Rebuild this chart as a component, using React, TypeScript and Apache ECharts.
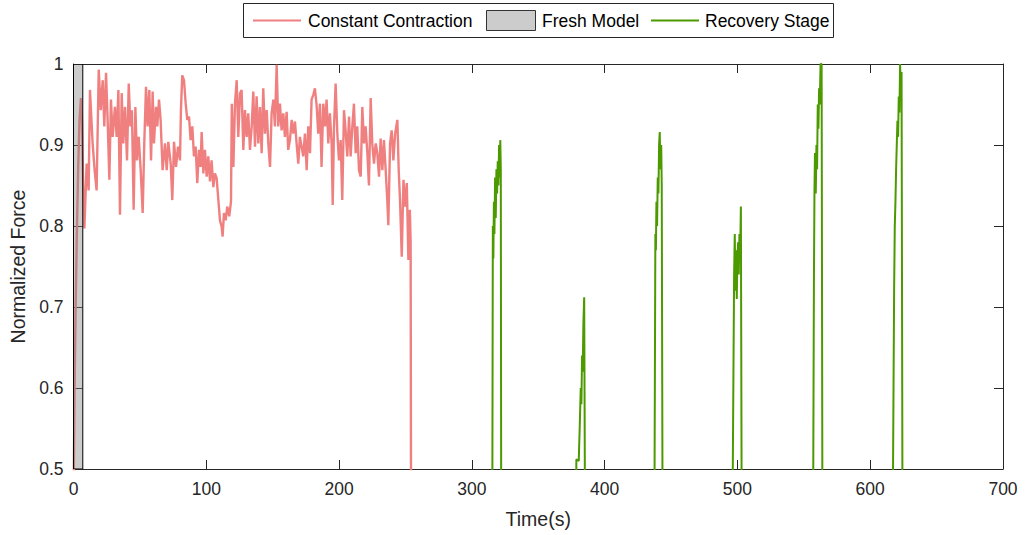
import React, { useEffect, useRef } from "react";
import * as echarts from "echarts";

// ---------- data ----------
const xTickValues = [0, 100, 200, 300, 400, 500, 600, 700];
const yTickValues = [0.5, 0.6, 0.7, 0.8, 0.9, 1];

const freshModelRange = [0, 7];

const constantTime = [
  0, 0.8, 1.6, 2.5, 3.5, 4.5, 5.6, 6.4, 7.3, 8.2, 9.9, 11.4, 12.4, 14.4, 15.9, 17.4, 19.0, 20.5, 22.0, 23.2,
  24.5, 25.7, 27.0, 28.2, 29.5, 31.2, 32.5, 33.8, 35.0, 36.3, 37.5, 38.8, 40.3, 41.6, 42.8, 44.0, 45.3, 46.6,
  47.8, 49.1, 50.6, 52.1, 53.3, 54.6, 55.8, 57.1, 58.4, 59.6, 60.6, 62.1, 63.1, 64.4, 65.6, 67.1, 68.9, 70.2,
  71.4, 73.2, 74.4, 75.7, 77.2, 78.7, 80.2, 80.9, 81.9, 83.2, 84.5, 85.7, 87.0, 88.2, 89.5, 90.7, 92.0, 93.2,
  94.5, 95.7, 96.5, 97.8, 99.0, 100.3, 101.5, 102.8, 104.0, 105.3, 106.5, 107.8, 109.1, 110.3, 111.6, 112.3,
  113.3, 114.6, 115.8, 117.3, 118.6, 119.2, 120.4, 121.6, 122.9, 124.1, 125.4, 126.6, 127.9, 129.1, 130.4,
  131.6, 132.9, 134.2, 135.4, 136.7, 137.9, 139.2, 140.4, 141.7, 142.9, 144.2, 145.5, 146.7, 148.0, 149.2,
  150.5, 151.7, 153.0, 154.2, 155.5, 156.7, 158.0, 159.2, 160.5, 161.7, 163.0, 164.3, 165.5, 166.8, 168.0,
  169.3, 170.5, 171.8, 173.0, 174.3, 175.6, 176.8, 178.1, 179.3, 180.6, 181.8, 183.1, 184.3, 185.6, 186.8,
  188.1, 189.4, 190.6, 191.9, 193.1, 194.4, 195.2, 196.2, 197.4, 198.7, 199.9, 201.2, 202.4, 203.7, 204.9,
  206.2, 207.5, 208.7, 210.0, 211.2, 212.5, 213.7, 215.0, 216.3, 217.5, 218.8, 220.0, 221.3, 222.5, 223.8,
  225.0, 226.3, 227.6, 228.8, 230.1, 231.3, 232.6, 233.8, 235.1, 236.3, 237.1, 238.4, 239.6, 240.9, 242.2,
  243.9, 244.9, 245.9, 247.2, 248.5, 249.7, 251.0, 252.2, 253.3, 253.9, 254.2,
];
const constantForce = [
  0.45, 0.6, 0.7, 0.79, 0.87, 0.93, 0.958, 0.93, 0.85, 0.797, 0.877, 0.844, 0.968, 0.902, 0.869, 0.844, 0.993,
  0.943, 0.98, 0.923, 0.989, 0.931, 0.857, 0.956, 0.91, 0.947, 0.91, 0.968, 0.814, 0.964, 0.902, 0.947, 0.881,
  0.976, 0.923, 0.943, 0.82, 0.947, 0.881, 0.91, 0.869, 0.816, 0.902, 0.972, 0.923, 0.968, 0.881, 0.966, 0.902,
  0.947, 0.923, 0.956, 0.931, 0.869, 0.902, 0.869, 0.904, 0.877, 0.832, 0.904, 0.873, 0.898, 0.881, 0.943,
  0.986, 0.98, 0.951, 0.931, 0.935, 0.906, 0.923, 0.886, 0.898, 0.853, 0.894, 0.873, 0.916, 0.865, 0.894,
  0.861, 0.886, 0.855, 0.881, 0.848, 0.865, 0.859, 0.832, 0.807, 0.799, 0.787, 0.816, 0.807, 0.824, 0.812,
  0.83, 0.951, 0.873, 0.951, 0.98, 0.91, 0.964, 0.968, 0.894, 0.943, 0.91, 0.939, 0.894, 0.923, 0.966, 0.898,
  0.96, 0.902, 0.947, 0.89, 0.97, 0.914, 0.943, 0.902, 0.873, 0.939, 0.956, 0.923, 0.999, 0.923, 0.951, 0.918,
  0.939, 0.91, 0.941, 0.894, 0.906, 0.931, 0.914, 0.929, 0.902, 0.877, 0.91, 0.898, 0.886, 0.914, 0.869, 0.923,
  0.89, 0.956, 0.962, 0.97, 0.949, 0.914, 0.951, 0.873, 0.951, 0.923, 0.956, 0.902, 0.939, 0.902, 0.826, 0.923,
  0.976, 0.914, 0.881, 0.906, 0.832, 0.943, 0.918, 0.886, 0.935, 0.886, 0.923, 0.951, 0.89, 0.923, 0.869, 0.861,
  0.947, 0.902, 0.923, 0.89, 0.85, 0.958, 0.902, 0.877, 0.902, 0.89, 0.861, 0.908, 0.869, 0.906, 0.869, 0.832,
  0.801, 0.902, 0.918, 0.881, 0.914, 0.931, 0.869, 0.832, 0.762, 0.857, 0.824, 0.853, 0.758, 0.82, 0.78, 0.45,
];

const recovery1Time = [315.4, 315.8, 316.2, 316.6, 317.0, 317.5, 318.0, 318.5, 319.0, 319.5, 320.0, 320.5, 321.0, 321.4, 321.8, 322.1];
const recovery1Force = [0.45, 0.8, 0.76, 0.83, 0.79, 0.86, 0.81, 0.87, 0.84, 0.88, 0.85, 0.9, 0.86, 0.906, 0.87, 0.45];

const recovery2Time = [378.5, 378.7, 380.5, 381.2, 382.0, 382.5, 383.0, 383.5, 384.0, 384.6, 385.2];
const recovery2Force = [0.45, 0.512, 0.51, 0.55, 0.6, 0.58, 0.64, 0.62, 0.68, 0.712, 0.45];

const recovery3Time = [437.5, 438.2, 438.6, 439.0, 439.5, 440.0, 440.5, 441.0, 441.5, 442.0, 442.6, 443.0, 443.6];
const recovery3Force = [0.45, 0.79, 0.77, 0.83, 0.8, 0.86, 0.84, 0.9, 0.916, 0.87, 0.9, 0.85, 0.45];

const recovery4Time = [496.3, 497.5, 498.0, 498.5, 499.0, 499.5, 500.0, 500.5, 501.0, 501.5, 502.0, 502.6, 503.2];
const recovery4Force = [0.45, 0.74, 0.79, 0.72, 0.77, 0.71, 0.76, 0.78, 0.74, 0.79, 0.76, 0.824, 0.45];

const recovery5Time = [557.0, 557.6, 558.0, 558.4, 559.0, 559.5, 560.0, 560.5, 561.0, 561.5, 562.0, 562.6, 563.4, 564.0];
const recovery5Force = [0.45, 0.73, 0.84, 0.89, 0.84, 0.9, 0.87, 0.95, 0.92, 0.97, 0.95, 1.0, 1.0, 0.45];

const recovery6Time = [617.0, 618.0, 618.5, 619.0, 619.5, 620.0, 620.5, 621.0, 621.5, 622.0, 622.5, 623.0, 623.6, 624.3];
const recovery6Force = [0.45, 0.72, 0.8, 0.83, 0.87, 0.9, 0.93, 0.91, 0.96, 0.94, 1.0, 0.97, 0.99, 0.45];

const recoveryTimes = [recovery1Time, recovery2Time, recovery3Time, recovery4Time, recovery5Time, recovery6Time];
const recoveryForces = [recovery1Force, recovery2Force, recovery3Force, recovery4Force, recovery5Force, recovery6Force];

const legendLabels = ["Constant Contraction", "Fresh Model", "Recovery Stage"];

// ---------- style ----------
const RED = "#F08080";
const GREEN = "#4C9900";
const AXIS = "#262626";
const FONT = "'Liberation Sans', Arial, Helvetica, sans-serif";

const zip = (xs: number[], ys: number[]) => xs.map((x, i) => [x, ys[i]]);

export default function App() {
  const ref = useRef<HTMLDivElement>(null);

  useEffect(() => {
    if (!ref.current) return;
    const chart = echarts.init(ref.current, undefined, { renderer: "svg" });

    const axisCommon = {
      axisLine: { show: true, onZero: false, lineStyle: { color: AXIS, width: 1 } },
      axisTick: { show: true, inside: true, length: 9, lineStyle: { color: AXIS, width: 1 } },
      splitLine: { show: false },
    };

    const xMin = xTickValues[0];
    const xMax = xTickValues[xTickValues.length - 1];
    const yMin = yTickValues[0];
    const yMax = yTickValues[yTickValues.length - 1];

    const recoverySeries = recoveryTimes.map((t, i) => ({
      type: "line",
      name: legendLabels[2],
      data: zip(t, recoveryForces[i]),
      showSymbol: false,
      symbol: "none",
      lineStyle: { color: GREEN, width: 2 },
      clip: true,
      z: 3,
    }));

    const legendGraphic = [
      {
        type: "rect",
        shape: { x: 243.5, y: 3.5, width: 590, height: 34 },
        style: { fill: "#fff", stroke: AXIS, lineWidth: 1 },
      },
      { type: "line", shape: { x1: 253, y1: 20.5, x2: 301, y2: 20.5 }, style: { stroke: RED, lineWidth: 2 } },
      {
        type: "text",
        x: 308,
        y: 21,
        style: { text: legendLabels[0], fontSize: 17.5, fontFamily: FONT, fill: "#000", verticalAlign: "middle" },
      },
      {
        type: "rect",
        shape: { x: 486.5, y: 10.5, width: 49, height: 20 },
        style: { fill: "#CCCCCC", stroke: "#333", lineWidth: 1 },
      },
      {
        type: "text",
        x: 542,
        y: 21,
        style: { text: legendLabels[1], fontSize: 17.5, fontFamily: FONT, fill: "#000", verticalAlign: "middle" },
      },
      { type: "line", shape: { x1: 651, y1: 20.5, x2: 699, y2: 20.5 }, style: { stroke: GREEN, lineWidth: 2 } },
      {
        type: "text",
        x: 705,
        y: 21,
        style: { text: legendLabels[2], fontSize: 17.5, fontFamily: FONT, fill: "#000", verticalAlign: "middle" },
      },
    ];

    chart.setOption({
      animation: false,
      backgroundColor: "#fff",
      textStyle: { fontFamily: FONT },
      grid: {
        left: 73.5,
        right: 22,
        top: 64,
        bottom: 66,
        containLabel: false,
        outerBoundsMode: "none",
      },
      xAxis: [
        {
          type: "value",
          position: "bottom",
          min: xMin,
          max: xMax,
          interval: 100,
          ...axisCommon,
          axisLabel: { fontSize: 17.5, color: AXIS, margin: 11, fontFamily: FONT },
          name: "Time(s)",
          nameLocation: "middle",
          nameGap: 40,
          nameTextStyle: { fontSize: 19.5, color: AXIS, fontFamily: FONT },
        },
        {
          type: "value",
          position: "top",
          min: xMin,
          max: xMax,
          interval: 100,
          ...axisCommon,
          axisLabel: { show: false },
        },
      ],
      yAxis: [
        {
          type: "value",
          position: "left",
          min: yMin,
          max: yMax,
          interval: 0.1,
          ...axisCommon,
          axisLabel: { fontSize: 17.5, color: AXIS, margin: 10, fontFamily: FONT },
          name: "Normalized Force",
          nameLocation: "middle",
          nameGap: 45,
          nameRotate: 90,
          nameTextStyle: { fontSize: 19.5, color: AXIS, fontFamily: FONT },
        },
        {
          type: "value",
          position: "right",
          min: yMin,
          max: yMax,
          interval: 0.1,
          ...axisCommon,
          axisLabel: { show: false },
        },
      ],
      series: [
        {
          type: "line",
          name: legendLabels[0],
          data: zip(constantTime, constantForce),
          showSymbol: false,
          symbol: "none",
          lineStyle: { color: RED, width: 2.4 },
          clip: true,
          z: 2,
        },
        {
          type: "custom",
          name: legendLabels[1],
          data: [[freshModelRange[0], freshModelRange[1]]],
          encode: { x: [0, 1] },
          clip: true,
          z: 5,
          renderItem: (_params: any, api: any) => {
            const p0 = api.coord([api.value(0), yMax]);
            const p1 = api.coord([api.value(1), yMin]);
            return {
              type: "rect",
              shape: { x: p0[0], y: p0[1], width: p1[0] - p0[0], height: p1[1] - p0[1] },
              style: { fill: "rgba(128,128,128,0.4)", stroke: "#000", lineWidth: 1 },
            };
          },
        },
        ...recoverySeries,
      ],
      graphic: legendGraphic,
    });

    return () => chart.dispose();
  }, []);

  return (
    <div
      ref={ref}
      style={{ position: "fixed", left: 0, top: 0, width: 1025, height: 535, background: "#fff" }}
    />
  );
}
